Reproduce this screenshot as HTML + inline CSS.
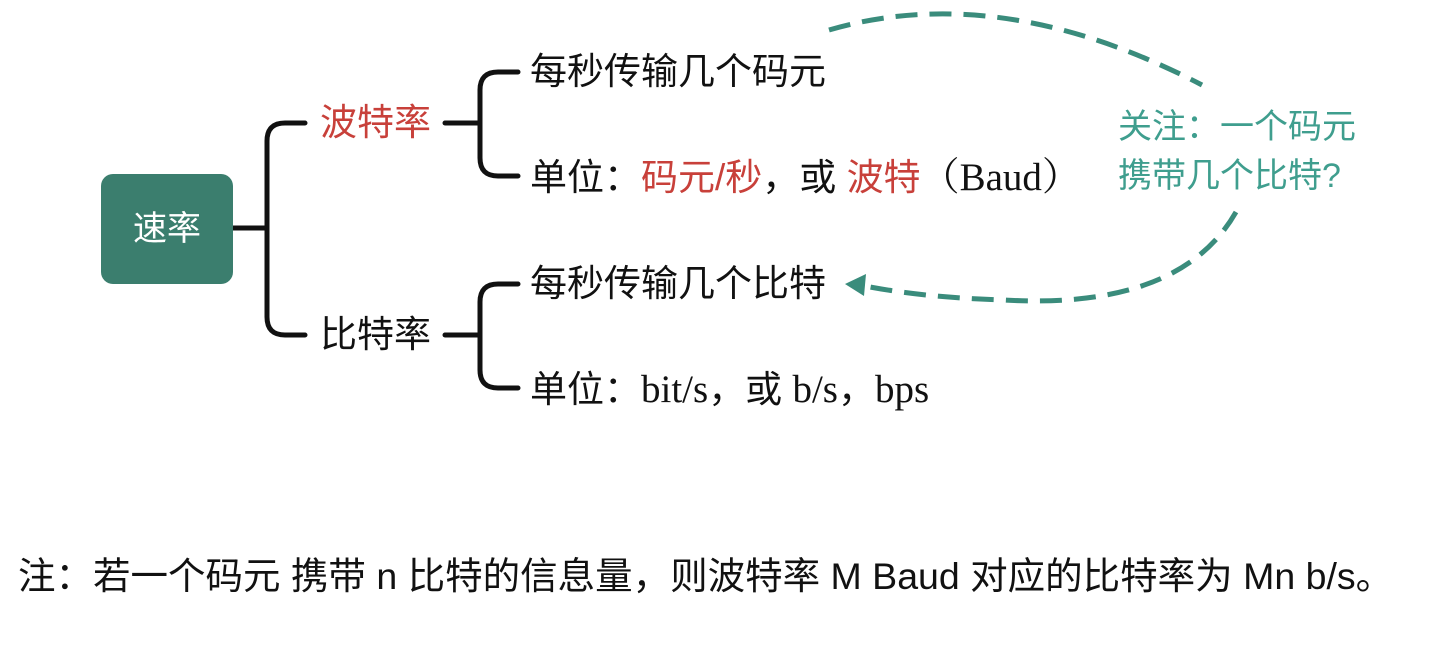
<!DOCTYPE html>
<html><head><meta charset="utf-8"><style>
html,body{margin:0;padding:0;background:#fff;}
#c{position:relative;width:1440px;height:654px;overflow:hidden;font-family:"Liberation Sans","Noto Sans CJK SC",sans-serif;}
.t{position:absolute;font-size:37px;line-height:40px;white-space:nowrap;color:#111;}
.r{color:#c8403a;}
.g{color:#3f9e8e;font-size:34px;}
.s{font-family:'Liberation Serif','Noto Serif CJK SC',serif;font-size:39px;}
.box{position:absolute;left:101px;top:174px;width:132px;height:110px;background:#3b7e6e;border-radius:12px;color:#fff;font-size:34px;line-height:110px;text-align:center;}
</style></head><body><div id="c">
<svg width="1440" height="654" style="position:absolute;left:0;top:0">
<g fill="none" stroke="#111" stroke-width="5" stroke-linecap="round">
<path d="M233 228 H267"/>
<path d="M305 123 H285 Q267 123 267 141 V317 Q267 335 285 335 H305"/>
<path d="M445 123 H480"/>
<path d="M518 72 H498 Q480 72 480 90 V158 Q480 176 498 176 H518"/>
<path d="M445 335 H480"/>
<path d="M518 284 H498 Q480 284 480 302 V370 Q480 388 498 388 H518"/>
</g>
<g fill="none" stroke="#3a8c7c" stroke-width="5" stroke-dasharray="22,12">
<path d="M829 30 Q1000 -20 1202 85"/>
<path d="M1236 212 Q1180 310 1004 300 Q930 298 870 287"/>
</g>
<polygon points="845,284 866,274 864,296" fill="#3a8c7c"/>
</svg>
<div class="box">速率</div>
<div class="t r" style="left:320px;top:103px">波特率</div>
<div class="t" style="left:320px;top:315px">比特率</div>
<div class="t" style="left:530px;top:52px">每秒传输几个码元</div>
<div class="t" style="left:530px;top:158px">单位：<span class="r">码元/秒</span>，或 <span class="r">波特</span><span class="s">（Baud）</span></div>
<div class="t" style="left:530px;top:264px">每秒传输几个比特</div>
<div class="t" style="left:530px;top:370px">单位：<span class="s">bit/s</span>，或 <span class="s">b/s</span>，<span class="s">bps</span></div>
<div class="t g" style="left:1118px;top:107px">关注：一个码元</div>
<div class="t g" style="left:1118px;top:156px">携带几个比特?</div>
<div class="t" style="left:18px;top:556px;font-size:37.5px">注：若一个码元 携带 n 比特的信息量，则波特率 M Baud 对应的比特率为 Mn b/s。</div>
</div></body></html>
